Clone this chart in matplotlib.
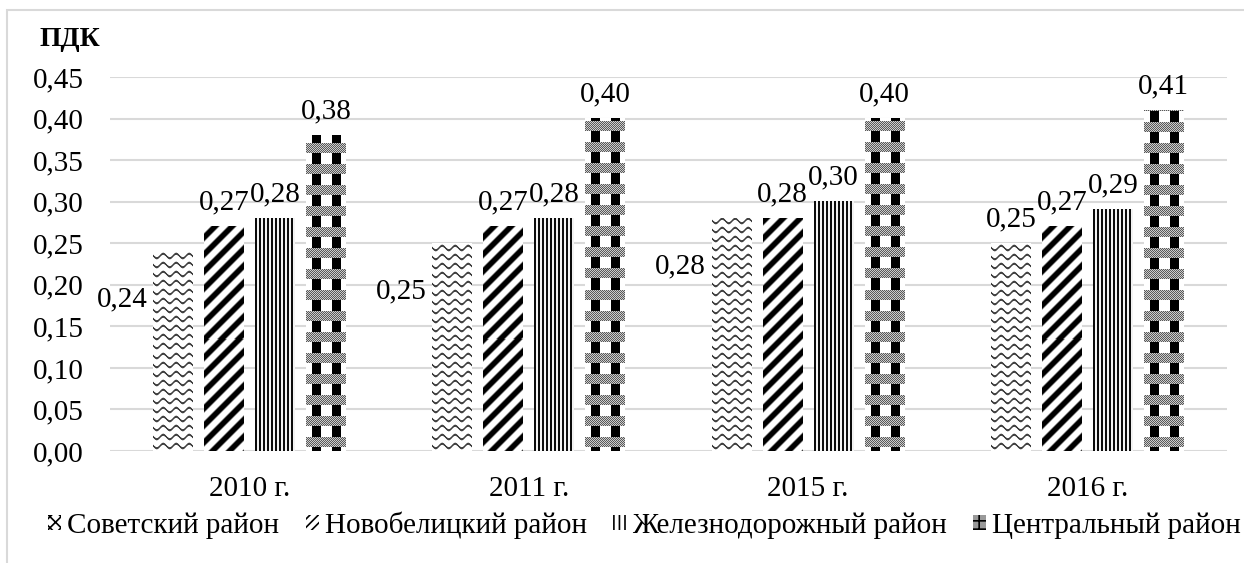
import numpy as np
import matplotlib
matplotlib.use('Agg')
import matplotlib.pyplot as plt
from matplotlib.patches import Patch, Rectangle

plt.rcParams['font.family'] = ['Liberation Serif', 'DejaVu Serif']
plt.rcParams['hatch.linewidth'] = 1.2
plt.rcParams['hatch.color'] = 'black'

# Данные
years = ['2010 г.', '2011 г.', '2015 г.', '2016 г.']
districts = ['Советский район', 'Новобелицкий район',
             'Железнодорожный район', 'Центральный район']
sovetsky = [0.24, 0.25, 0.28, 0.25]
novobelitsky = [0.27, 0.27, 0.28, 0.27]
zheleznodorozhny = [0.28, 0.28, 0.30, 0.29]
centralny = [0.38, 0.40, 0.40, 0.41]
y_ticks = [0.00, 0.05, 0.10, 0.15, 0.20, 0.25, 0.30, 0.35, 0.40, 0.45]


# Текстуры заливки (в пикселях)
def tex_wave(h, w):
    yy, xx = np.mgrid[0:h, 0:w]
    y_from_bottom = h - 1 - yy
    d = (y_from_bottom + 2.2 * np.sin(2 * np.pi * xx / 13.0)) % 9.0
    val = np.clip(np.abs(d - 4.5) - 0.6, 0, 1.0) * 0.75 + 0.25
    return val


def tex_diag(h, w):
    yy, xx = np.mgrid[0:h, 0:w]
    y_from_bottom = h - 1 - yy
    d = (xx - y_from_bottom) % 17.0
    val = np.clip(np.abs(d - 8.5) - 3.0, 0, 2.0) / 2.0
    return val


def tex_vert(h, w):
    yy, xx = np.mgrid[0:h, 0:w]
    d = xx % 4
    val = np.where(d < 2, 0.05, 0.95)
    return val


def tex_check(h, w):
    yy, xx = np.mgrid[0:h, 0:w]
    y_from_bottom = h - 1 - yy
    val = np.ones((h, w))
    stripe = ((xx - 6) % 20) < 9
    val[stripe] = 0.0
    band = ((y_from_bottom - 4) % 21) < 10
    fine = np.where((xx + yy) % 2 == 0, 0.35, 0.8)
    val[band] = fine[band]
    return val


textures = [tex_wave, tex_diag, tex_vert, tex_check]
series = [sovetsky, novobelitsky, zheleznodorozhny, centralny]

fig = plt.figure(figsize=(12.44, 5.63), dpi=100)
W, H = 1244, 563
ax = fig.add_axes([110 / W, 1 - 451 / H, (1227 - 110) / W, (451 - 77) / H])

x = np.arange(len(years))
bar_w = 0.143
pitch = 0.1826
offsets = (np.arange(4) - 1.5) * pitch

ax.set_xlim(-0.5, len(years) - 0.5)
ax.set_ylim(0, 0.45)

for k, vals in enumerate(series):
    bars = ax.bar(x + offsets[k], vals, width=bar_w, color='none', linewidth=0)
    for b, v in zip(bars, vals):
        x0, x1 = b.get_x(), b.get_x() + b.get_width()
        p0 = ax.transData.transform((x0, 0))
        p1 = ax.transData.transform((x1, v))
        wp = max(int(round(p1[0] - p0[0])), 1)
        hp = max(int(round(p1[1] - p0[1])), 1)
        img = textures[k](hp, wp)
        ax.imshow(img, cmap='gray', vmin=0, vmax=1, extent=(x0, x1, 0, v),
                  aspect='auto', interpolation='nearest', zorder=3)

ax.set_xlim(-0.5, len(years) - 0.5)
ax.set_ylim(0, 0.45)

# Подписи значений
for k, vals in enumerate(series):
    for i, v in enumerate(vals):
        label = f'{v:.2f}'.replace('.', ',')
        xc = x[i] + offsets[k]
        if k == 0 and i < 3:
            ax.annotate(label, (xc - bar_w / 2, v - 0.058), xytext=(-4, 0),
                        textcoords='offset points', ha='right', va='center',
                        fontsize=21, zorder=4)
        else:
            ax.annotate(label, (xc, v), xytext=(0, 8),
                        textcoords='offset points', ha='center', va='bottom',
                        fontsize=21, zorder=4)

ax.set_yticks(y_ticks)
ax.set_yticklabels([f'{t:.2f}'.replace('.', ',') for t in y_ticks])
ax.set_xticks(x)
ax.set_xticklabels(years)
ax.tick_params(axis='y', length=0, pad=19, labelsize=21)
ax.tick_params(axis='x', length=0, pad=18, labelsize=21)
ax.grid(axis='y', color='#d9d9d9', linewidth=1.5, zorder=0)
ax.set_axisbelow(True)
for s in ax.spines.values():
    s.set_visible(False)

fig.text(40 / W, 1 - 40 / H, 'ПДК', fontsize=20, fontweight='bold',
         ha='left', va='center')

# Рамка области диаграммы
fig.patches.append(Rectangle((7 / W, -0.1), 1.2, 1 - 10 / H + 0.1,
                             transform=fig.transFigure, fill=False,
                             edgecolor='#d9d9d9', linewidth=1.5))

handles = [
    Patch(facecolor='white', edgecolor='black', linewidth=0, hatch='xxx'),
    Patch(facecolor='white', edgecolor='black', linewidth=0, hatch='////'),
    Patch(facecolor='white', edgecolor='black', linewidth=0, hatch='|||'),
    Patch(facecolor='#999999', edgecolor='black', linewidth=0, hatch='++'),
]
fig.legend(handles, districts, loc='center', bbox_to_anchor=(0.518, 1 - 525 / H),
           ncol=4, frameon=False, fontsize=21, handlelength=0.45,
           handleheight=0.45, handletextpad=0.2, columnspacing=0.9)

fig.savefig('out.png', dpi=100)
